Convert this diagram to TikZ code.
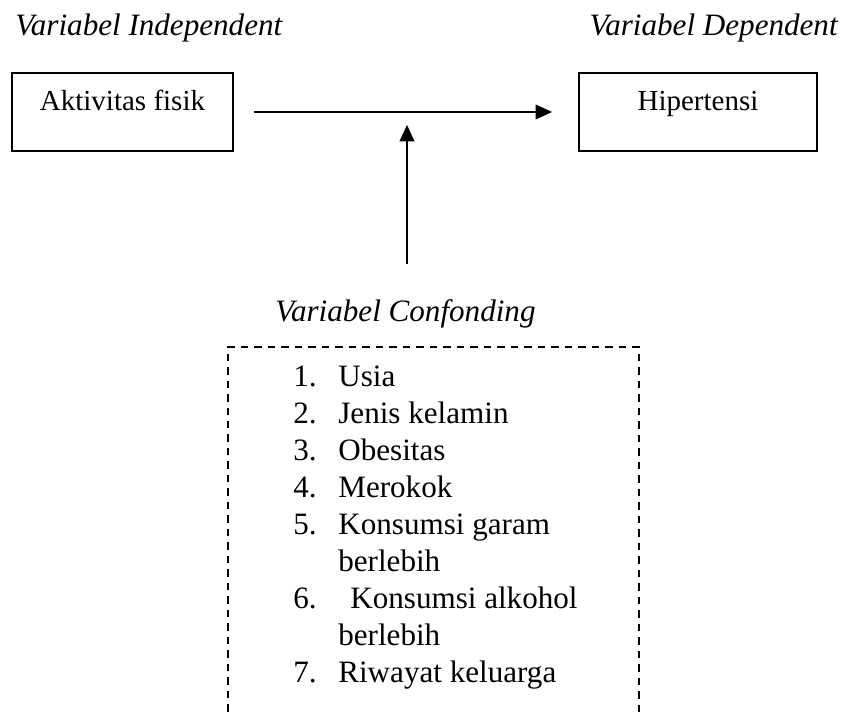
\documentclass[tikz,border=0pt]{standalone}
\usepackage{fontspec}
\setmainfont{Liberation Serif}
\usetikzlibrary{arrows.meta}
\newcommand{\diafont}{\fontsize{17.7}{21}\selectfont}
\newcommand{\boxfont}{\fontsize{16.5}{20}\selectfont}

\begin{document}
\begin{tikzpicture}[
  every node/.style={font=\diafont, inner sep=0pt},
  vartitle/.style={font=\diafont\itshape},
  varbox/.style={draw, font=\boxfont, line width=1.1pt, inner xsep=0pt, inner ysep=0.34cm, text height=0.42cm, text depth=0.46cm},
  arrowline/.style={line width=0.6pt, -{Triangle[length=0.33cm,width=0.3cm]}},
  conline/.style={line width=1.1pt, dash pattern=on 0.15cm off 0.12cm},
  itemno/.style={anchor=base west},
  itemtext/.style={anchor=base west}
]
\useasboundingbox (0,0) rectangle (16.96,14.24);

\node[vartitle, anchor=base west] (indep) at (0.30,13.52) {Variabel Independent};
\node[vartitle, anchor=base east] (dep) at (16.76,13.52) {Variabel Dependent};

\node[varbox, minimum width=4.42cm] (aktivitas) at (2.45,12.0) {Aktivitas fisik};
\node[varbox, minimum width=4.76cm] (hipertensi) at (13.96,12.0) {Hipertensi};

\node[vartitle, anchor=base] (confonding) at (8.11,7.8) {Variabel Confonding};

\coordinate (join) at (8.14,12.0);

\draw[arrowline, shorten <=0.4cm, shorten >=0.52cm] (aktivitas.east) -- (hipertensi.west);
\draw[arrowline, shorten <=0.72cm, shorten >=0.26cm] (confonding.north -| join) -- (join);

% dashed box, open at the bottom
\draw[conline] (4.56,0) -- (4.56,7.3) -- (12.78,7.3) -- (12.78,0);

\node[itemno] (no1) at (5.86,6.500) {1.};
\node[itemno] (no2) at (5.86,5.762) {2.};
\node[itemno] (no3) at (5.86,5.024) {3.};
\node[itemno] (no4) at (5.86,4.286) {4.};
\node[itemno] (no5) at (5.86,3.548) {5.};
\node[itemno] (no6) at (5.86,2.072) {6.};
\node[itemno] (no7) at (5.86,0.596) {7.};

\node[itemtext] (usia) at (6.76,6.500) {Usia};
\node[itemtext] (jenis) at (6.76,5.762) {Jenis kelamin};
\node[itemtext] (obesitas) at (6.76,5.024) {Obesitas};
\node[itemtext] (merokok) at (6.76,4.286) {Merokok};
\node[itemtext] (garam) at (6.76,3.548) {Konsumsi garam};
\node[itemtext] (garamb) at (6.76,2.810) {berlebih};
\node[itemtext] (alkohol) at (7.00,2.072) {Konsumsi alkohol};
\node[itemtext] (alkoholb) at (6.76,1.334) {berlebih};
\node[itemtext] (riwayat) at (6.76,0.596) {Riwayat keluarga};

\end{tikzpicture}
\end{document}
